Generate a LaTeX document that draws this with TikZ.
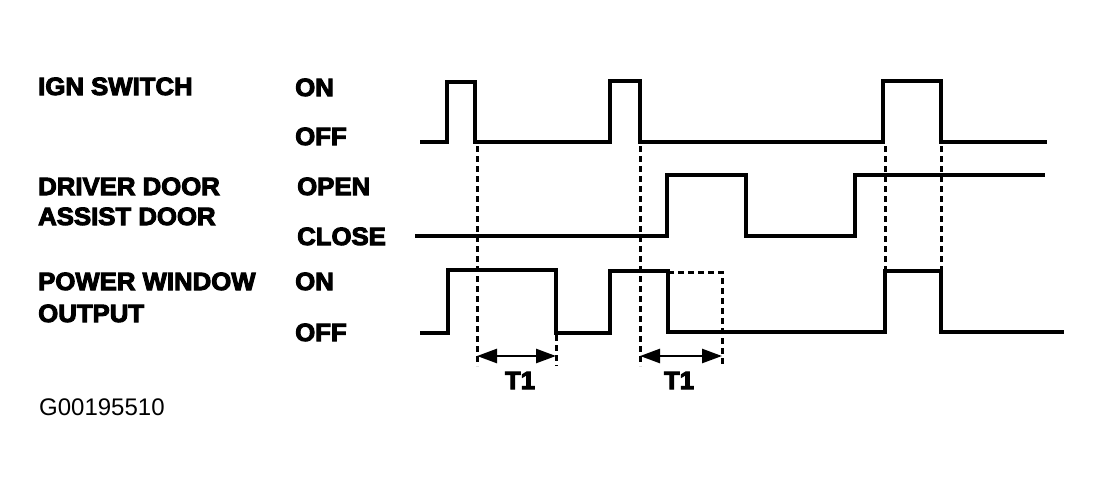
\documentclass[tikz,border=0pt]{standalone}
\usepackage{fontspec}
\setmainfont{Liberation Sans}
\newfontfamily\heavy[UprightFont={* Bold},FakeBold=4,FakeStretch=1.03]{Liberation Sans}
\usetikzlibrary{arrows.meta}
\begin{document}
\begin{tikzpicture}[x=1pt,y=-1pt,
  lbl/.style={anchor=base west,inner sep=0pt,font=\heavy\fontsize{25}{30}\selectfont},
  tlbl/.style={anchor=base,inner sep=0pt,font=\heavy\fontsize{25}{30}\selectfont},
  sig/.style={line width=3.4pt,line join=miter,line cap=butt},
  guide/.style={line width=3pt,dash pattern=on 6pt off 4pt},
  dim/.style={line width=2.6pt,{Triangle[length=20pt,width=14pt]}-{Triangle[length=20pt,width=14pt]}}]
\useasboundingbox (0,0) rectangle (1102,490);
% left labels
\node[lbl] (ign) at (38,95) {IGN SWITCH};
\node[lbl] (drv) at (38,195) {DRIVER DOOR};
\node[lbl] (ast) at (38,225) {ASSIST DOOR};
\node[lbl] (pw) at (38,290) {POWER WINDOW};
\node[lbl] (out) at (38,322) {OUTPUT};
% state labels
\node[lbl] (on1) at (295,96) {ON};
\node[lbl] (off1) at (295,145) {OFF};
\node[lbl] (open) at (297,195) {OPEN};
\node[lbl] (close) at (297,245) {CLOSE};
\node[lbl] (on2) at (295,290) {ON};
\node[lbl] (off2) at (295,341) {OFF};
\node[anchor=base west,inner sep=0pt,font=\fontsize{24}{28}\selectfont] (code) at (39,415) {G00195510};
% IGN switch
\draw[sig] (420,142) -- (447,142) -- (447,82) -- (475,82) -- (475,142) -- (610,142) -- (610,81) -- (640,81) -- (640,142) -- (883,142) -- (883,81) -- (941,81) -- (941,142) -- (1047,142);
% Door
\draw[sig] (415,236) -- (667,236) -- (667,175) -- (746,175) -- (746,236) -- (855,236) -- (855,175) -- (1045,175);
% Power window
\draw[sig] (420,333) -- (448,333) -- (448,270) -- (556,270) -- (556,333) -- (610,333) -- (610,271) -- (668,271) -- (668,332) -- (885,332) -- (885,271) -- (941,271) -- (941,332) -- (1064,332);
\draw[guide] (668,272) -- (722,272) -- (722,366);
% guides
\draw[guide] (477,146) -- (477,366);
\draw[guide] (640,146) -- (640,366);
\draw[guide] (556,335) -- (556,366);
\draw[guide] (885,146) -- (885,270);
\draw[guide] (941,146) -- (941,270);
% T1 dimensions
\coordinate (a1) at (477,356);
\coordinate (b1) at (556,356);
\coordinate (a2) at (640,356);
\coordinate (b2) at (722,356);
\draw[dim] (a1) -- (b1);
\draw[dim] (a2) -- (b2);
\node[tlbl] (t1a) at (520,389) {T1};
\node[tlbl] (t1b) at (679,389) {T1};
\end{tikzpicture}
\end{document}
